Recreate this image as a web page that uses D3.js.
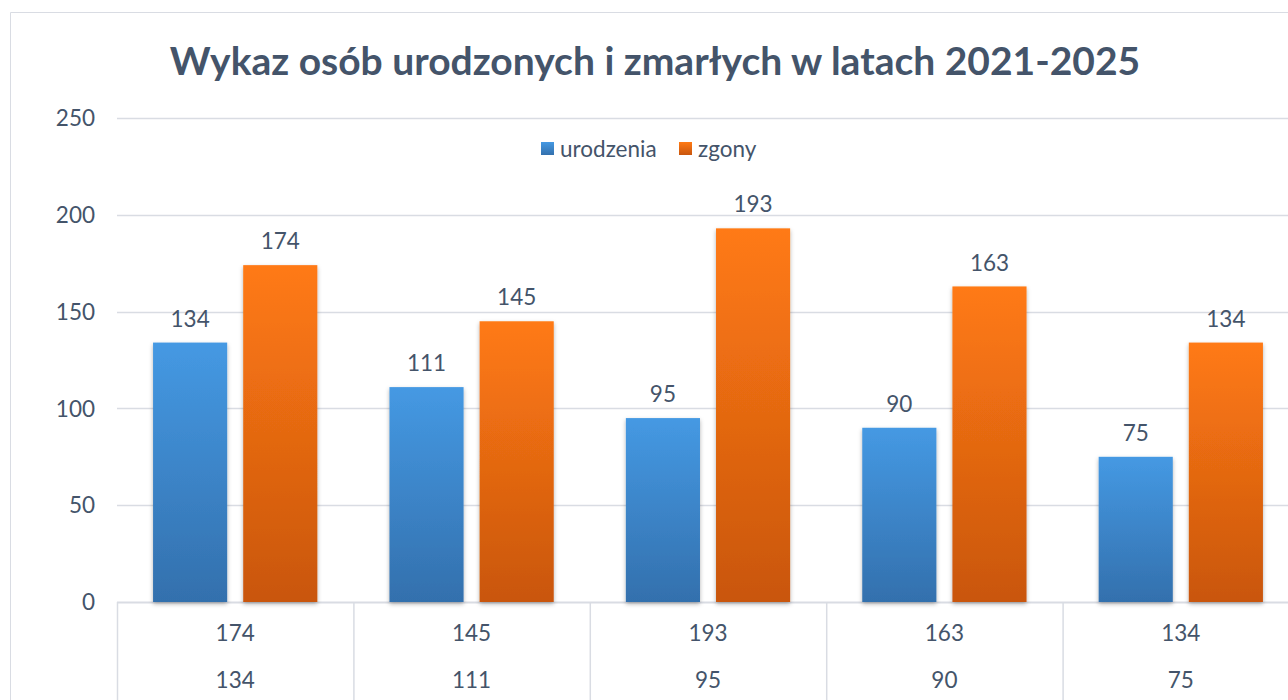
<!DOCTYPE html>
<html>
<head>
<meta charset="utf-8">
<script src="https://cdn.jsdelivr.net/npm/d3@7"></script>
<style>
  body { margin: 0; background: #fff; }
  svg text { font-family: Lato, "Open Sans", sans-serif; fill: #44546A; }
</style>
</head>
<body>
<svg id="chart" width="1288" height="700"></svg>
<script>
// data
const years = ["2021", "2022", "2023", "2024", "2025"];
const births = [134, 111, 95, 90, 75];
const deaths = [174, 145, 193, 163, 134];
const seriesNames = ["urodzenia", "zgony"];
const yTicks = [0, 50, 100, 150, 200, 250];

const svg = d3.select("#chart");
const margin = { left: 117, top: 118, bottom: 602 };
const bandW = 236.4;
const fontSize = 22.5;

// outer chart frame (cut at the right / bottom like the screenshot)
svg.append("path")
    .attr("d", "M10.5,700 V12.5 H1288")
    .attr("fill", "none")
    .attr("stroke", "#D9DCE3")
    .attr("stroke-width", 1);

const defs = svg.append("defs");
const blueGrad = defs.append("linearGradient").attr("id", "gBlue").attr("x1", 0).attr("y1", 0).attr("x2", 0).attr("y2", 1);
blueGrad.append("stop").attr("offset", "0%").attr("stop-color", "#4599E3");
blueGrad.append("stop").attr("offset", "100%").attr("stop-color", "#3370AD");
const orangeGrad = defs.append("linearGradient").attr("id", "gOrange").attr("x1", 0).attr("y1", 0).attr("x2", 0).attr("y2", 1);
orangeGrad.append("stop").attr("offset", "0%").attr("stop-color", "#FF7A14");
orangeGrad.append("stop").attr("offset", "100%").attr("stop-color", "#C9560E");
defs.append("filter").attr("id", "shadow").attr("x", "-20%").attr("y", "-5%").attr("width", "140%").attr("height", "115%")
    .append("feDropShadow")
    .attr("dx", 0).attr("dy", 2).attr("stdDeviation", 2.2)
    .attr("flood-color", "#000").attr("flood-opacity", 0.3);

const x = d3.scaleBand()
    .domain(years)
    .range([margin.left, margin.left + bandW * years.length]);

const x1 = d3.scaleBand()
    .domain(seriesNames)
    .range([0, bandW])
    .paddingInner(16 / 90)
    .paddingOuter(0.4);

const y = d3.scaleLinear()
    .domain([0, 250])
    .range([margin.bottom, margin.top]);

// title
svg.append("text")
    .attr("x", 655)
    .attr("y", 75)
    .attr("text-anchor", "middle")
    .attr("font-size", 39)
    .attr("font-weight", "bold")
    .text("Wykaz osób urodzonych i zmarłych w latach 2021-2025");

// gridlines
svg.append("g")
    .selectAll("line")
    .data(yTicks)
    .join("line")
    .attr("x1", margin.left)
    .attr("x2", 1288)
    .attr("y1", d => Math.round(y(d)) + 0.5)
    .attr("y2", d => Math.round(y(d)) + 0.5)
    .attr("stroke", "#D9DCE3")
    .attr("stroke-width", d => d === 0 ? 2 : 1.5);

// y axis labels
svg.append("g")
    .selectAll("text")
    .data(yTicks)
    .join("text")
    .attr("x", 95)
    .attr("y", d => y(d))
    .attr("dy", "0.36em")
    .attr("text-anchor", "end")
    .attr("font-size", fontSize)
    .text(d => d);

// legend
const legend = svg.append("g");
const legendItems = [
    { name: seriesNames[0], fill: "url(#gBlue)", x: 541 },
    { name: seriesNames[1], fill: "url(#gOrange)", x: 679 }
];
legend.selectAll("rect")
    .data(legendItems)
    .join("rect")
    .attr("x", d => d.x)
    .attr("y", 142)
    .attr("width", 13)
    .attr("height", 13)
    .attr("fill", d => d.fill);
legend.selectAll("text")
    .data(legendItems)
    .join("text")
    .attr("x", d => d.x + 19)
    .attr("y", 149)
    .attr("dy", "0.36em")
    .attr("font-size", fontSize)
    .text(d => d.name);

// bars
const rows = years.map((yr, i) => ({ year: yr, values: [births[i], deaths[i]] }));
const fills = ["url(#gBlue)", "url(#gOrange)"];

const groups = svg.append("g")
    .selectAll("g")
    .data(rows)
    .join("g")
    .attr("transform", d => `translate(${x(d.year)},0)`);

groups.selectAll("rect")
    .data(d => d.values.map((v, j) => ({ key: seriesNames[j], v, j })))
    .join("rect")
    .attr("x", d => x1(d.key))
    .attr("width", x1.bandwidth())
    .attr("y", d => y(d.v))
    .attr("height", d => y(0) - y(d.v))
    .attr("fill", d => fills[d.j])
    .attr("filter", "url(#shadow)");

groups.selectAll("text.lbl")
    .data(d => d.values.map((v, j) => ({ key: seriesNames[j], v, j })))
    .join("text")
    .attr("class", "lbl")
    .attr("x", d => x1(d.key) + x1.bandwidth() / 2)
    .attr("y", d => y(d.v) - 24)
    .attr("dy", "0.36em")
    .attr("text-anchor", "middle")
    .attr("font-size", fontSize)
    .text(d => d.v);

// data table under the axis
const table = svg.append("g");
table.selectAll("line")
    .data(d3.range(years.length + 1))
    .join("line")
    .attr("x1", i => margin.left + i * bandW + 0.5)
    .attr("x2", i => margin.left + i * bandW + 0.5)
    .attr("y1", margin.bottom)
    .attr("y2", 700)
    .attr("stroke", "#D9DCE3")
    .attr("stroke-width", 1.5);

const tableRows = [deaths, births];
tableRows.forEach((vals, r) => {
    table.append("g")
        .selectAll("text")
        .data(years)
        .join("text")
        .attr("x", d => x(d) + x.bandwidth() / 2)
        .attr("y", 633 + r * 47)
        .attr("dy", "0.36em")
        .attr("text-anchor", "middle")
        .attr("font-size", fontSize)
        .text((d, i) => vals[i]);
});
</script>
</body>
</html>
